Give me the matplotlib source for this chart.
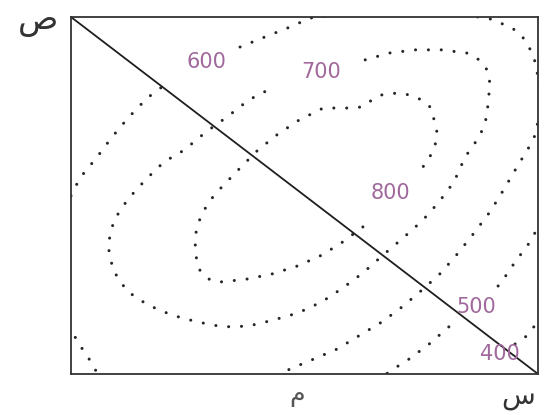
import matplotlib
matplotlib.use("Agg")
import matplotlib.pyplot as plt

# contour traces (0-100 box units), split where labels sit
c600_a_x = [0.0, 1.9, 5.6, 8.8, 12.2, 16.3, 20.6]
c600_a_y = [49.9, 54.9, 60.8, 66.4, 71.7, 77.3, 81.5]
c600_b_x = [36.2, 41.5, 46.9, 51.2, 70.4, 89.3, 92.9, 95.5, 97.4, 98.7, 99.6, 100.6,
            99.6, 98.1, 95.5, 92.5, 89.7, 86.3, 82.9, 79.2, 75.4, 70.9, 66.6, 61.9,
            57.0, 52.0, 46.9, 43.9]
c600_b_y = [91.6, 94.4, 97.2, 99.7, 102.5, 99.7, 97.8, 96.1, 93.3, 89.9, 86.6, 76.8,
            67.5, 63.6, 58.0, 51.3, 45.4, 39.5, 33.9, 28.3, 23.8, 18.8, 14.6, 10.9,
            7.0, 4.2, 1.4, -0.6]

c700_x = [63.0, 68.1, 73.7, 79.4, 84.8, 87.4, 89.1, 89.7, 89.3, 88.7, 87.4, 84.4,
          82.0, 78.8, 75.2, 71.1, 66.8, 62.5, 58.2, 53.7, 48.6, 43.3, 37.9, 32.5,
          27.0, 21.6, 16.5, 12.0, 9.0, 7.9, 9.2, 12.2, 16.1, 19.9, 24.2, 28.9,
          33.4, 38.1, 43.0]
c700_y = [88.0, 89.9, 90.8, 90.8, 89.9, 88.0, 85.2, 81.5, 75.4, 70.3, 66.4, 60.8,
          53.8, 48.2, 42.9, 38.1, 33.3, 28.3, 24.1, 20.2, 17.1, 15.1, 13.4, 13.2,
          14.6, 16.5, 19.3, 23.2, 29.1, 36.1, 43.1, 49.0, 54.6, 59.4, 62.7, 67.8,
          72.0, 76.8, 80.1]

c800_x = [62.5, 58.2, 53.7, 48.6, 43.0, 37.7, 32.3, 29.8, 27.6, 26.8, 26.6, 26.8,
          27.6, 28.9, 30.4, 32.3, 36.2, 40.0, 44.3, 48.8, 54.0, 59.3, 62.3, 64.5,
          66.6, 69.8, 72.4, 74.7, 76.9, 77.9, 78.4, 77.9, 76.7, 75.2]
c800_y = [41.2, 37.0, 33.3, 30.3, 28.0, 26.6, 25.8, 26.3, 29.1, 32.8, 36.4, 39.8,
          43.4, 46.8, 49.6, 52.4, 57.7, 62.7, 67.2, 71.1, 74.5, 74.5, 74.8, 76.8,
          78.2, 78.7, 78.2, 77.0, 74.8, 70.6, 67.5, 63.6, 60.5, 57.7]

c500_a_x = [100.6, 98.3, 95.1, 91.9, 90.1]
c500_a_y = [42.6, 37.0, 31.4, 25.2, 23.0]
c500_b_x = [80.9, 76.7, 72.4, 68.1, 66.8]
c500_b_y = [13.2, 8.4, 4.2, 0.6, -0.8]

c400_a_x = [100.6, 98.1, 95.9, 93.6]
c400_a_y = [16.2, 11.2, 9.0, 7.3]
c400_b_x = [-0.4, 1.7, 3.2, 4.7, 6.0]
c400_b_y = [13.4, 8.4, 5.6, 2.5, -0.8]

line_x = [0, 100]
line_y = [100, 0]

level_text = ["600", "700", "800", "500", "400"]
level_x = [29.1, 53.5, 68.3, 86.7, 91.9]
level_y = [87.4, 84.6, 50.7, 18.8, 5.6]

fig = plt.figure(figsize=(5.44, 4.15), dpi=100)
ax = fig.add_axes([0.1305, 0.0988, 0.8585, 0.8602])

segments = [(c600_a_x, c600_a_y), (c600_b_x, c600_b_y), (c700_x, c700_y),
            (c800_x, c800_y), (c500_a_x, c500_a_y), (c500_b_x, c500_b_y),
            (c400_a_x, c400_a_y), (c400_b_x, c400_b_y)]
for xs, ys in segments:
    ax.plot(xs, ys, color='#262626', lw=2.2, linestyle=(0, (0.01, 4.2)),
            dash_capstyle='round')

ax.plot(line_x, line_y, color='#1e1e1e', lw=1.3)

for t, x, y in zip(level_text, level_x, level_y):
    ax.text(x, y, t, color='#a0689c', fontsize=15, ha='center', va='center')

ax.set_xlim(0, 100)
ax.set_ylim(0, 100)
ax.set_xticks([])
ax.set_yticks([])
for s in ax.spines.values():
    s.set_linewidth(1.3)
    s.set_color('#333333')

ax.text(-0.07, 0.99, "ص", transform=ax.transAxes, fontsize=24,
        ha='center', va='center', color='#333333')
ax.text(0.958, -0.062, "س", transform=ax.transAxes, fontsize=20,
        ha='center', va='center', color='#333333')
ax.text(0.484, -0.06, "م", transform=ax.transAxes, fontsize=18,
        ha='center', va='center', color='#555555')

fig.savefig("out.png", dpi=100)
